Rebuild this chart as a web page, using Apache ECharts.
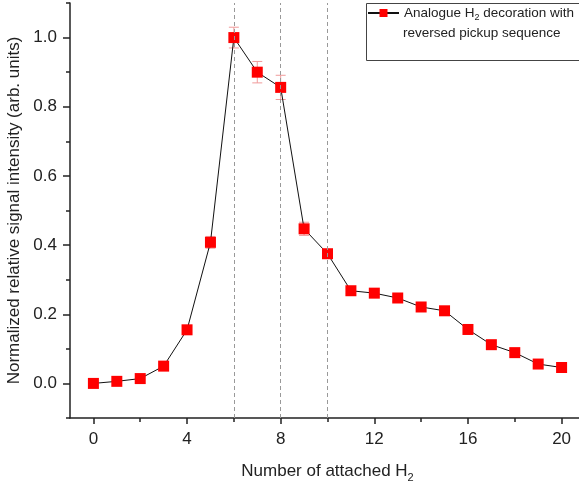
<!DOCTYPE html>
<html lang="en">
<head>
  <meta charset="UTF-8">
  <title>H2 decoration</title>
  <script src="https://cdn.jsdelivr.net/npm/echarts@6/dist/echarts.min.js"></script>
  <style>
    html,body{margin:0;padding:0;background:#fff;}
    #main{width:579px;height:485px;}
  </style>
</head>
<body>
<div id="main"></div>
<script>
  // number of attached H2
  var nH2 = [0,1,2,3,4,5,6,7,8,9,10,11,12,13,14,15,16,17,18,19,20];
  // normalized relative signal intensity
  var intensity = [0.000,0.006,0.014,0.050,0.155,0.408,1.000,0.900,0.856,0.447,0.375,0.268,0.261,0.247,0.221,0.210,0.156,0.112,0.089,0.056,0.046];
  // error bar half heights
  var errors = [0.002,0.003,0.004,0.005,0.008,0.017,0.030,0.031,0.035,0.019,0.012,0.008,0.008,0.010,0.008,0.008,0.008,0.006,0.006,0.006,0.005];
  var xLabels = [0,4,8,12,16,20];
  var xMinor = [2,6,10,14,18];
  var yLabels = [0,0.2,0.4,0.6,0.8,1.0];
  var yMinor = [-0.1,0.1,0.3,0.5,0.7,0.9,1.1];
  var guides = [6,8,10];

  var font = "'Liberation Sans', Arial, sans-serif";
  var seriesName = 'Analogue H2 decoration with reversed pickup sequence';

  var pts = nH2.map(function(x,i){return [x,intensity[i]]});
  var errData = nH2.map(function(x,i){return [x,intensity[i],errors[i]]});

  var chart = echarts.init(document.getElementById('main'));
  chart.setOption({
    animation:false,
    backgroundColor:'#fff',
    grid:{left:70,right:-6,top:3,bottom:67,containLabel:false,outerBoundsMode:'none'},
    legend:{
      left:366,top:3,
      padding:[3,10,38,1],
      itemWidth:31,itemHeight:10,
      data:[seriesName],
      formatter:function(){return '{a|Analogue H}{s|2}{a| decoration with}'},
      textStyle:{color:'#222',fontFamily:font,fontSize:13.5,
        rich:{a:{fontSize:13.5,fontFamily:font,color:'#222'},
              s:{fontSize:9,fontFamily:font,color:'#222',padding:[9,0,0,0]}}}
    },
    graphic:[
      {type:'rect',z:10,
        shape:{x:366.5,y:3.5,width:240,height:57},style:{fill:null,stroke:'#444',lineWidth:1}},
      {type:'text',x:403,y:26,
        style:{text:'reversed pickup sequence',font:'13.5px '+font,fill:'#222'}}
    ],
    xAxis:[{
      type:'value',min:-1,max:21,position:'bottom',
      name:'{a|Number of attached H}{s|2}',nameLocation:'middle',nameGap:42,
      nameTextStyle:{rich:{a:{fontSize:17,fontFamily:font,color:'#222'},
        s:{fontSize:11,fontFamily:font,color:'#222',padding:[12,0,0,0]}}},
      axisLine:{onZero:false,lineStyle:{color:'#222',width:1.5}},
      axisTick:{customValues:xLabels,length:6,lineStyle:{color:'#222',width:1.5}},
      axisLabel:{customValues:xLabels,margin:13,fontSize:17,fontFamily:font,color:'#222'},
      splitLine:{show:false}
    },{
      type:'value',min:-1,max:21,position:'bottom',
      axisLine:{show:false,onZero:false},
      axisTick:{customValues:xMinor,length:4,lineStyle:{color:'#222',width:1.5}},
      axisLabel:{show:false},splitLine:{show:false}
    }],
    yAxis:[{
      type:'value',min:-0.1,max:1.1,position:'left',
      name:'Normalized relative signal intensity (arb. units)',nameLocation:'middle',nameGap:36,
      nameTextStyle:{fontSize:17,fontFamily:font,color:'#222'},
      axisLine:{show:true,onZero:false,lineStyle:{color:'#222',width:1.5}},
      axisTick:{show:true,customValues:yLabels,length:7,lineStyle:{color:'#222',width:1.5}},
      axisLabel:{customValues:yLabels,margin:13,fontSize:17,fontFamily:font,color:'#222',
        formatter:function(v){return v.toFixed(1)}},
      splitLine:{show:false}
    },{
      type:'value',min:-0.1,max:1.1,position:'left',
      axisLine:{show:false,onZero:false},
      axisTick:{show:true,customValues:yMinor,length:4,lineStyle:{color:'#222',width:1.5}},
      axisLabel:{show:false},splitLine:{show:false}
    }],
    series:[{
      type:'custom',
      name:'err',
      xAxisIndex:0,yAxisIndex:0,
      z:1,silent:true,
      data:errData,
      encode:{x:0,y:1},
      renderItem:function(params,api){
        var x=api.value(0),y=api.value(1),e=api.value(2);
        var hi=api.coord([x,y+e]),lo=api.coord([x,y-e]);
        var st={stroke:'#f09a9a',lineWidth:1};
        return {type:'group',children:[
          {type:'line',shape:{x1:hi[0],y1:hi[1],x2:lo[0],y2:lo[1]},style:st},
          {type:'line',shape:{x1:hi[0]-5,y1:hi[1],x2:hi[0]+5,y2:hi[1]},style:st},
          {type:'line',shape:{x1:lo[0]-5,y1:lo[1],x2:lo[0]+5,y2:lo[1]},style:st}
        ]};
      },
      markLine:{
        silent:true,symbol:'none',label:{show:false},
        lineStyle:{color:'#999',type:[4,3],width:1},
        data:guides.map(function(g){return {xAxis:g}})
      }
    },{
      type:'line',
      name:seriesName,
      xAxisIndex:0,yAxisIndex:0,
      z:3,
      data:pts,
      symbol:'rect',symbolSize:11,
      itemStyle:{color:'#ff0000'},
      lineStyle:{color:'#111',width:1}
    }]
  });
</script>
</body>
</html>
